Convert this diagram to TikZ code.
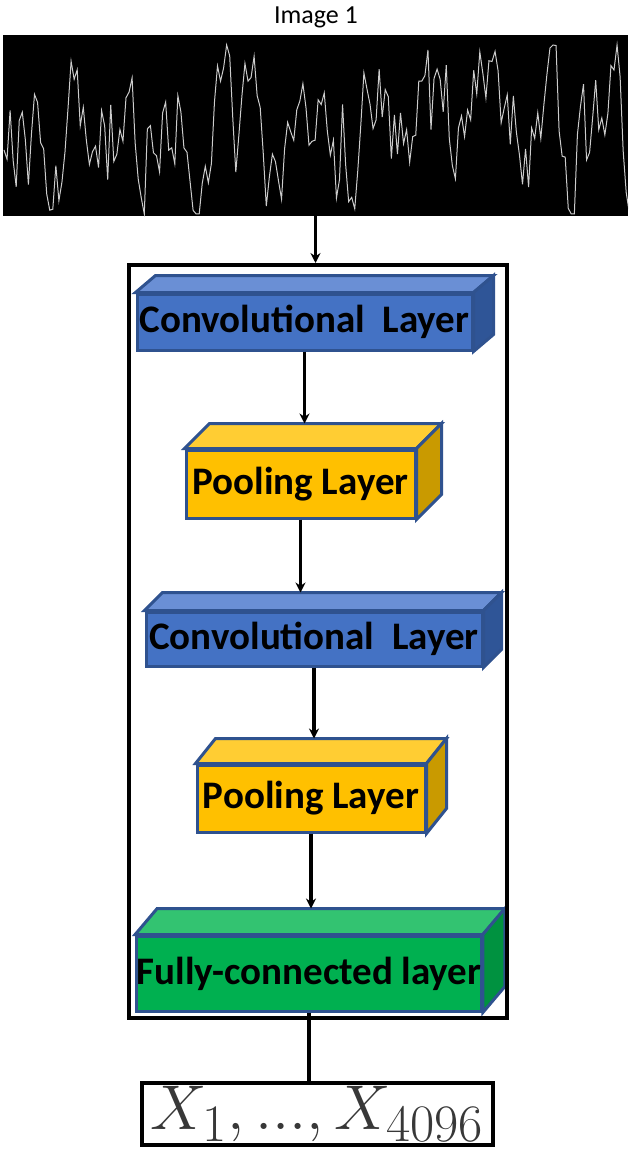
\documentclass[tikz,border=0pt]{standalone}
\usepackage{graphicx}
\usepackage{fontspec}
\setsansfont{Carlito}
\usepackage{tikz}
\usetikzlibrary{arrows.meta,backgrounds}

\definecolor{edgeblue}{HTML}{2F528F}
\definecolor{convfront}{HTML}{4472C4}
\definecolor{convtop}{HTML}{6A8FD5}
\definecolor{convside}{HTML}{2F5597}
\definecolor{poolfront}{HTML}{FFC000}
\definecolor{pooltop}{HTML}{FFCD33}
\definecolor{poolside}{HTML}{C99A00}
\definecolor{fcfront}{HTML}{00B050}
\definecolor{fctop}{HTML}{33C371}
\definecolor{fcside}{HTML}{009240}

% top and side faces of a layer box: node, dx, dy, top colour, side colour
\newcommand{\boxfaces}[5]{%
  \begin{scope}[on background layer]
    \draw[face, fill=#4] (#1.north west) -- ++(#2,#3) -- ([shift={(#2,#3)}]#1.north east) -- (#1.north east) -- cycle;
    \draw[face, fill=#5] (#1.north east) -- ++(#2,#3) -- ([shift={(#2,#3)}]#1.south east) -- (#1.south east) -- cycle;
  \end{scope}
  \coordinate (#1-back) at ([shift={(#2,#3)}]#1.north);
}

\begin{document}
\begin{tikzpicture}[x=0.5pt, y=-0.5pt,
    layer/.style={draw=edgeblue, line width=1.5pt, inner sep=0pt, font=\sffamily\bfseries\fontsize{19.5}{22}\selectfont},
    face/.style={draw=edgeblue, line width=1.5pt},
    arr/.style={-{Stealth[length=5pt,width=5pt]}, line width=1.6pt}
]
\useasboundingbox (0,0) rectangle (632,1150);

% input image
\node[font=\sffamily\fontsize{13}{15}\selectfont] (title) at (316,17) {Image 1};
\node[fill=black, minimum width=312.5pt, minimum height=90.5pt, inner sep=0pt] (img) at (315.5,125.5) {};
\begin{scope}
  \clip (img.south west) rectangle (img.north east);
  \pgfmathsetseed{21}
  \xdef\sigy{150}
  \xdef\sigpath{(4,150)}
  \foreach \i in {1,...,205} {
    \pgfmathsetmacro{\ynew}{max(45,min(214,0.65*\sigy+0.35*135+120*(rnd-0.5)))}
    \xdef\sigy{\ynew}
    \xdef\sigpath{\sigpath -- ({4+\i*3.05},\sigy)}
  }
  \draw[white!80!black, line width=0.5pt] \sigpath;
\end{scope}

% network
\node[draw, line width=2pt, minimum width=189pt, minimum height=376.5pt, inner sep=0pt] (frame) at (318,641.5) {};

\node[layer, fill=convfront, minimum width=167.5pt, minimum height=28pt] (conv1) at (304.5,322) {Convolutional\ \ Layer};
\boxfaces{conv1}{20}{-17}{convtop}{convside}
\node[layer, fill=poolfront, minimum width=114.5pt, minimum height=34pt] (pool1) at (300.5,484) {Pooling Layer};
\boxfaces{pool1}{25}{-25}{pooltop}{poolside}
\node[layer, fill=convfront, minimum width=168pt, minimum height=27pt] (conv2) at (314,639) {Convolutional\ \ Layer};
\boxfaces{conv2}{18}{-18}{convtop}{convside}
\node[layer, fill=poolfront, minimum width=114pt, minimum height=33.5pt] (pool2) at (311,798.5) {Pooling Layer};
\boxfaces{pool2}{20}{-25}{pooltop}{poolside}
\node[layer, fill=fcfront, minimum width=172pt, minimum height=37.5pt] (fc) at (309,973.5) {Fully-connected layer};
\boxfaces{fc}{22}{-26}{fctop}{fcside}

% output
\node[draw, line width=2pt, minimum width=175.5pt, minimum height=31pt, inner sep=0pt, text=black!78, font=\fontsize{24.88}{26}\selectfont] (out) at (317.5,1114) {\scalebox{1.27}{$X_1, ..., X_{4096}$}};

\draw[arr] (img.south) -- (img.south |- frame.north);
\draw[arr] (conv1.south) -- (conv1.south |- pool1-back);
\draw[arr] (pool1.south) -- (pool1.south |- conv2-back);
\draw[arr] (conv2.south) -- (conv2.south |- pool2-back);
\draw[arr] (pool2.south) -- (pool2.south |- fc-back);
\draw[line width=2pt] (fc.south) -- (fc.south |- out.north);
\end{tikzpicture}
\end{document}
